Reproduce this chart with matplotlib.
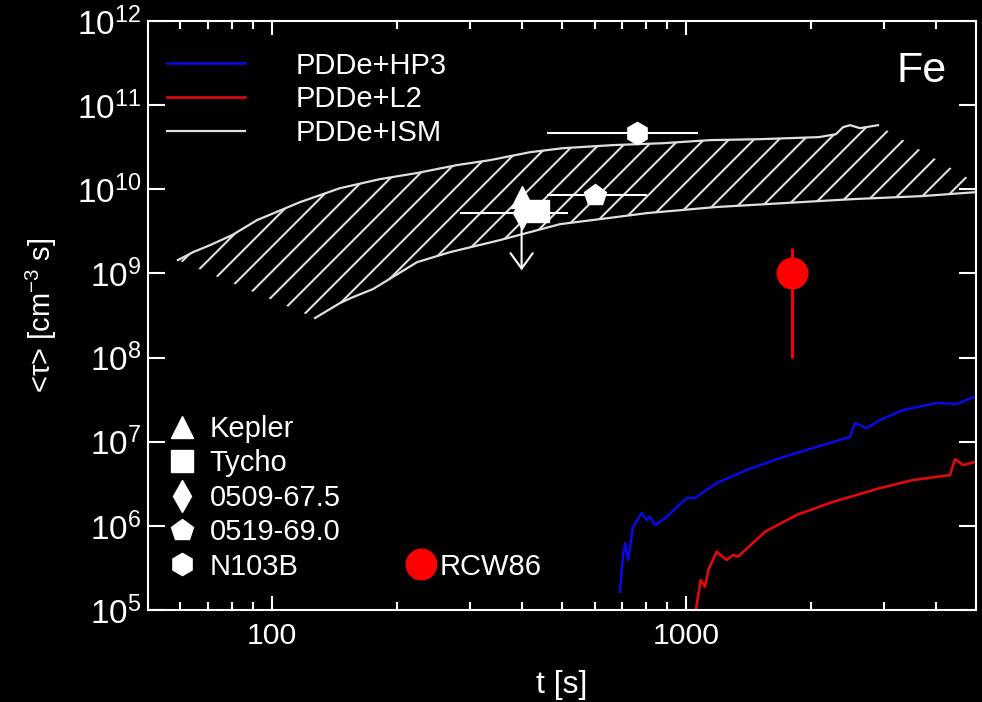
import matplotlib
matplotlib.use("Agg")
import matplotlib.pyplot as plt
from matplotlib.lines import Line2D
from matplotlib.collections import LineCollection
from matplotlib import ticker
import numpy as np

plt.rcParams['font.family'] = ['Liberation Sans', 'DejaVu Sans']
plt.rcParams['mathtext.default'] = 'regular'

# PDDe+ISM band: upper and lower edges
t_up = [59.2, 64.4, 70.8, 80.0, 91.9, 116.7, 145.7, 182.0, 223.6, 279.3, 335.7,
        419.3, 503.5, 664.7, 877.7, 1140, 1505, 2089, 2296, 2388, 2482, 2624, 2900]
n_up = [1.44e9, 1.79e9, 2.17e9, 2.85e9, 4.30e9, 7.03e9, 1.03e10, 1.32e10, 1.56e10,
        1.94e10, 2.22e10, 2.76e10, 3.08e10, 3.35e10, 3.53e10, 3.84e10, 3.94e10,
        4.17e10, 4.52e10, 5.47e10, 5.78e10, 5.33e10, 5.78e10]
t_lo = [126.9, 145.7, 156.7, 175.1, 223.6, 268.7, 354.8, 495.1, 618.4, 803.3,
        1172, 1720, 2524, 3704, 5000, 5405]
n_lo = [2.95e8, 4.44e8, 5.23e8, 6.51e8, 1.36e9, 1.79e9, 2.49e9, 3.85e9, 4.42e9,
        5.21e9, 6.14e9, 6.85e9, 7.64e9, 8.30e9, 9.25e9, 9.51e9]

# PDDe+HP3
t_hp3 = [691, 704, 711, 723, 743, 780, 802, 817, 840, 896, 1001, 1048, 1183, 1398,
         1682, 2021, 2482, 2552, 2724, 2933, 3332, 4020, 4492, 5000]
n_hp3 = [1.65e5, 4.76e5, 6.25e5, 3.93e5, 9.68e5, 1.42e6, 1.17e6, 1.28e6, 1.02e6,
         1.28e6, 2.14e6, 2.14e6, 3.23e6, 4.61e6, 6.39e6, 8.41e6, 1.14e7, 1.67e7,
         1.45e7, 1.81e7, 2.38e7, 2.88e7, 2.80e7, 3.49e7]

# PDDe+L2
t_l2 = [1050, 1082, 1109, 1129, 1183, 1250, 1295, 1332, 1548, 1846, 2259, 2933,
        3524, 4328, 4450, 4652, 5000]
n_l2 = [9.0e4, 2.27e5, 1.89e5, 2.99e5, 4.93e5, 3.93e5, 4.50e5, 4.30e5, 8.52e5,
        1.35e6, 1.93e6, 2.81e6, 3.50e6, 4.02e6, 6.22e6, 5.28e6, 5.78e6]

# observed remnants
snr_names = ['Kepler', 'Tycho', '0509-67.5', '0519-69.0', 'N103B']
snr_markers = ['^', 's', 'd', 'p', 'h']
snr_t = [400, 437, 400, 601, 759]
snr_n = [8.07e9, 5.57e9, 5.21e9, 8.52e9, 4.61e10]
snr_tlo = [400, 437, 284, 460, 460]
snr_thi = [400, 437, 518, 802, 1068]
lim_0509 = 1.09e9

rcw_t = 1800
rcw_n = 1.0e9
rcw_nlo = 1.0e8
rcw_nhi = 2.0e9

W, H, DPI = 982, 702, 100
fig = plt.figure(figsize=(W / DPI, H / DPI), dpi=DPI, facecolor='black')
ax = fig.add_axes([147.5 / W, 1 - 610 / H, (976 - 147.5) / W, (610 - 21) / H])
ax.set_facecolor('black')
ax.set_xscale('log')
ax.set_yscale('log')
ax.set_xlim(50, 5000)
ax.set_ylim(1e5, 1e12)

band_c = '#e0e0e0'
band, = ax.fill(np.concatenate([t_up, t_lo[::-1]]), np.concatenate([n_up, n_lo[::-1]]),
                facecolor='none', linewidth=0)
# diagonal hatching, clipped to the band (spacing ~25 px)
w_px = (976 - 147.5)
h_px = (610 - 21)
k = w_px / h_px
x0 = np.arange(-1 / k, 1.0, 25 / w_px)
segs = [[(a, 0), (a + 1 / k, 1)] for a in x0]
hatch = LineCollection(segs, colors=band_c, linewidths=1.5, transform=ax.transAxes)
ax.add_collection(hatch)
hatch.set_clip_path(band)

ism, = ax.plot(t_up, n_up, color=band_c, lw=1.6)
ax.plot(t_lo, n_lo, color=band_c, lw=1.6)
hp3, = ax.plot(t_hp3, n_hp3, color='#0a0ae0', lw=1.9)
l2, = ax.plot(t_l2, n_l2, color='#e00a0a', lw=1.9)

for t, n, lo, hi, m in zip(snr_t, snr_n, snr_tlo, snr_thi, snr_markers):
    ax.errorbar(t, n, xerr=[[t - lo], [hi - t]], fmt=m, color='white',
                ms=16, mec='white', elinewidth=1.5, capsize=0)
ax.annotate('', xy=(snr_t[2], lim_0509), xytext=(snr_t[2], snr_n[2]),
            arrowprops=dict(arrowstyle='->,head_length=0.55,head_width=0.4',
                            mutation_scale=20, color='white', lw=1.5,
                            shrinkA=0, shrinkB=0))
ax.errorbar(rcw_t, rcw_n, yerr=[[rcw_n - rcw_nlo], [rcw_nhi - rcw_n]], fmt='o',
            color='#ff0000', ms=22, elinewidth=2.1, capsize=0)

ax.text(0.965, 0.915, 'Fe', transform=ax.transAxes, ha='right', va='center',
        color='white', fontsize=31)

leg1 = ax.legend([hp3, l2, ism], ['PDDe+HP3', 'PDDe+L2', 'PDDe+ISM'],
                 loc='upper left', bbox_to_anchor=(0.024, 0.948), frameon=False,
                 fontsize=21, handlelength=2.65, handletextpad=1.75,
                 labelspacing=0.2, borderpad=0, borderaxespad=0, labelcolor='white')
ax.add_artist(leg1)

snr_handles = [Line2D([], [], ls='none', marker=m, color='white', ms=16)
               for m in snr_markers]
leg2 = ax.legend(snr_handles, snr_names, loc='lower left',
                 bbox_to_anchor=(0.024, 0.05), frameon=False, fontsize=21,
                 handlelength=1.0, handletextpad=0.45, labelspacing=0.22,
                 borderpad=0, borderaxespad=0, labelcolor='white')
ax.add_artist(leg2)
rcw_handle = Line2D([], [], ls='none', marker='o', color='#ff0000', ms=22)
ax.legend([rcw_handle], ['RCW86'], loc='lower left', bbox_to_anchor=(0.3126, 0.05),
          frameon=False, fontsize=21, handlelength=1.0, handletextpad=0.15,
          borderpad=0, borderaxespad=0, labelcolor='white')

for s in ax.spines.values():
    s.set_color('white')
    s.set_linewidth(1.5)
ax.tick_params(which='both', direction='in', top=True, right=True, colors='white')
ax.tick_params(axis='y', which='major', length=12.5, width=1.5, labelsize=24, pad=4.5)
ax.tick_params(axis='x', which='major', length=10, width=1.5, labelsize=21.75, pad=9)
ax.tick_params(axis='x', which='minor', length=6, width=1.5)
ax.yaxis.set_major_locator(ticker.LogLocator(base=10, numticks=20))
ax.yaxis.set_minor_locator(ticker.NullLocator())
ax.xaxis.set_major_locator(ticker.LogLocator(base=10))
ax.xaxis.set_minor_locator(ticker.LogLocator(base=10, subs=np.arange(2, 10)))
ax.xaxis.set_major_formatter(ticker.FuncFormatter(lambda v, p: f'{v:g}'))
ax.xaxis.set_minor_formatter(ticker.NullFormatter())

ax.set_xlabel('t [s]', color='white', fontsize=23, labelpad=14)
ax.set_ylabel('<τ> [cm$^{-3}$ s]', color='white', fontsize=21, labelpad=13)

fig.savefig('out.png', dpi=DPI, facecolor='black')
